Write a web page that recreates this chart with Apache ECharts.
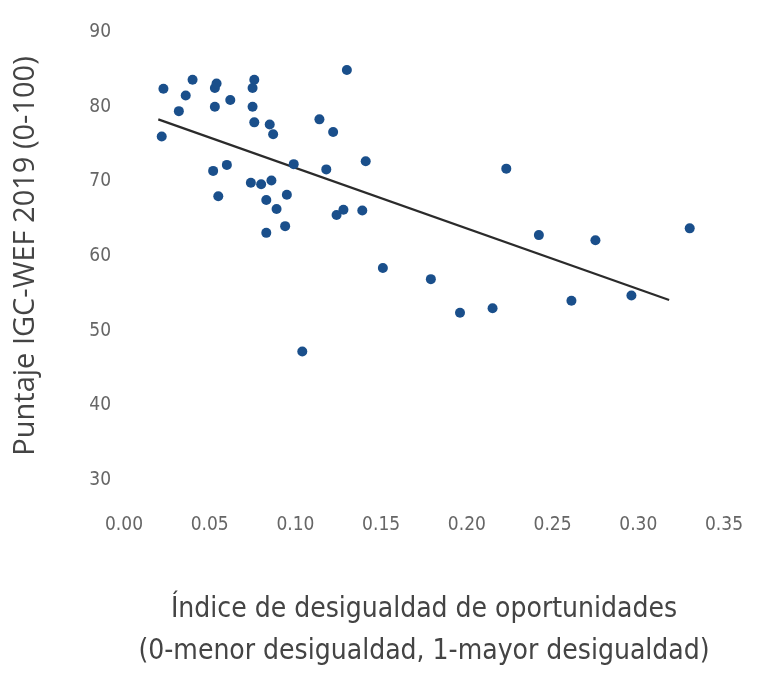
<!DOCTYPE html>
<html>
<head>
<meta charset="utf-8">
<script src="https://cdn.jsdelivr.net/npm/echarts@6/dist/echarts.min.js"></script>
<style>
html,body{margin:0;padding:0;background:#fff;}
#chart{width:758px;height:678px;}
</style>
</head>
<body>
<div id="chart"></div>
<script>
// Índice de desigualdad de oportunidades (x) vs Puntaje IGC-WEF 2019 (y)
const inequality = [
  0.022, 0.023, 0.032, 0.036, 0.040, 0.053, 0.054, 0.053, 0.062, 0.076,
  0.075, 0.075, 0.076, 0.085, 0.087, 0.114, 0.122, 0.130, 0.099, 0.118,
  0.141, 0.052, 0.060, 0.074, 0.080, 0.086, 0.055, 0.083, 0.095, 0.089,
  0.124, 0.128, 0.139, 0.083, 0.094, 0.151, 0.179, 0.196, 0.215, 0.223,
  0.242, 0.275, 0.261, 0.296, 0.330, 0.104
];
const score = [
  76.0, 82.4, 79.4, 81.5, 83.6, 82.5, 83.1, 80.0, 80.9, 83.6,
  82.5, 80.0, 77.9, 77.6, 76.3, 78.3, 76.6, 84.9, 72.3, 71.6,
  72.7, 71.4, 72.2, 69.8, 69.6, 70.1, 68.0, 67.5, 68.2, 66.3,
  65.5, 66.2, 66.1, 63.1, 64.0, 58.4, 56.9, 52.4, 53.0, 71.7,
  62.8, 62.1, 54.0, 54.7, 63.7, 47.2
];
const trendX = [0.020, 0.318];
const trendY = [78.3, 54.1];
const xTicks = ['0.00','0.05','0.10','0.15','0.20','0.25','0.30','0.35'];
const yTicks = ['30','40','50','60','70','80','90'];

const points = inequality.map((v, i) => [v, score[i]]);
const trend = trendX.map((v, i) => [v, trendY[i]]);

const chart = echarts.init(document.getElementById('chart'), null, {renderer: 'canvas'});
const condFont = "'DejaVu Sans Condensed', 'Liberation Sans Narrow', sans-serif";
chart.setOption({
  animation: false,
  backgroundColor: '#ffffff',
  grid: {left: 124, right: 34, top: 32, bottom: 193, containLabel: false},
  xAxis: {
    type: 'value', min: 0, max: 0.35, interval: 0.05,
    axisLine: {show: false}, axisTick: {show: false}, splitLine: {show: false},
    axisLabel: {
      margin: 36, color: '#666', fontSize: 19, fontFamily: condFont,
      formatter: (v) => xTicks[Math.round(v / 0.05)]
    },
    name: 'Índice de desigualdad de oportunidades\n(0-menor desigualdad, 1-mayor desigualdad)',
    nameLocation: 'middle', nameGap: 109,
    nameTextStyle: {color: '#444', fontSize: 28, lineHeight: 42, fontFamily: condFont}
  },
  yAxis: {
    type: 'value', min: 30, max: 90, interval: 10,
    axisLine: {show: false}, axisTick: {show: false}, splitLine: {show: false},
    axisLabel: {
      margin: 13, color: '#666', fontSize: 19, fontFamily: condFont,
      formatter: (v) => yTicks[Math.round((v - 30) / 10)]
    },
    name: 'Puntaje IGC-WEF 2019 (0-100)',
    nameLocation: 'middle', nameGap: 84,
    nameTextStyle: {color: '#444', fontSize: 29, fontFamily: "'Open Sans', sans-serif"}
  },
  series: [
    {
      type: 'scatter', data: points, symbolSize: 10,
      itemStyle: {color: '#1a4f8b', opacity: 1}, z: 3
    },
    {
      type: 'line', data: trend, symbol: 'none',
      lineStyle: {color: '#2b2b2b', width: 2.2}, z: 2
    }
  ]
});
</script>
</body>
</html>
